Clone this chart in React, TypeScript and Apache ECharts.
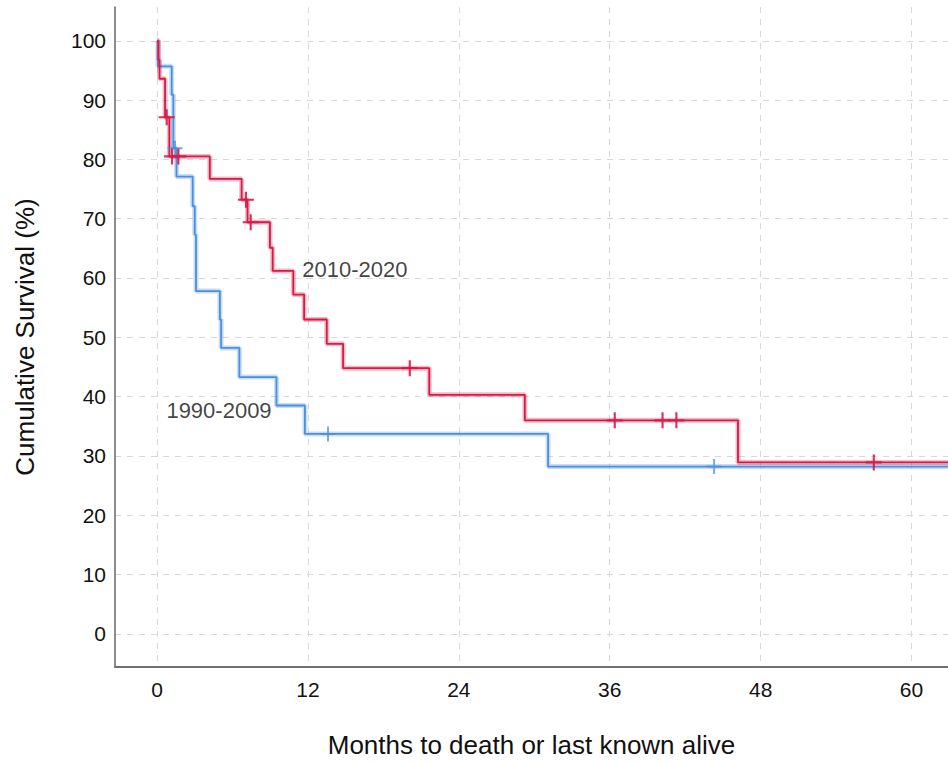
import React, { useEffect, useRef } from "react";
import * as echarts from "echarts";

const xTicks = [0, 12, 24, 36, 48, 60];
const yTicks = [0, 10, 20, 30, 40, 50, 60, 70, 80, 90, 100];
const xRange = [-3.34, 62.9];
const yRange = [-5.6, 105.7];

// Kaplan-Meier steps: [time, survival after time]
const blueSteps: [number, number][] = [
  [0, 100], [0.08, 95.7], [1.17, 90.9], [1.3, 81.9], [1.55, 77.1],
  [2.84, 72.1], [3.0, 67.3], [3.1, 57.8], [5.0, 53.0], [5.1, 48.2],
  [6.55, 43.3], [9.5, 38.5], [11.76, 33.7], [31.1, 28.2], [62.9, 28.2],
];
const blueCensors: [number, number][] = [[1.43, 81.9], [13.6, 33.7], [44.3, 28.2]];

const redSteps: [number, number][] = [
  [0, 100], [0.12, 96.8], [0.2, 93.6], [0.64, 87.1], [0.98, 80.5],
  [4.2, 76.7], [6.73, 73.2], [7.2, 69.4], [8.98, 65.1], [9.2, 61.2],
  [10.84, 57.2], [11.7, 53.0], [13.5, 48.9], [14.8, 44.8], [21.65, 40.3],
  [29.25, 36.0], [46.2, 28.9], [62.9, 28.9],
];
const redCensors: [number, number][] = [
  [0.77, 87.1], [1.2, 80.5], [1.7, 80.5], [7.07, 73.2], [7.45, 69.4],
  [20.1, 44.8], [36.4, 36.0], [40.2, 36.0], [41.3, 36.0], [57.0, 28.9],
];

const groupLabels = [
  { name: "2010-2020", pos: [15.74, 61.4] },
  { name: "1990-2009", pos: [4.93, 37.6] },
];

const RED = "#d71a45";
const BLUE = "#4a8fe3";
const PLUS = "path://M6.5,0H8.5V6.5H15V8.5H8.5V15H6.5V8.5H0V6.5H6.5Z";
const FONT = "Liberation Sans, Arial, sans-serif";
const TEXT = "#111";

export default function App() {
  const ref = useRef<HTMLDivElement>(null);
  useEffect(() => {
    document.body.style.margin = "0";
    const chart = echarts.init(ref.current!, null, { renderer: "svg" });
    const stepSeries = (data: [number, number][], color: string, width: number, opacity: number, z: number) => ({
      type: "line",
      data,
      step: "end",
      symbol: "none",
      silent: true,
      z,
      lineStyle: { color, width, opacity },
    });
    chart.setOption({
      animation: false,
      textStyle: { fontFamily: FONT },
      grid: { left: 115, right: 0, top: 7, bottom: 96, containLabel: false },
      xAxis: {
        type: "value",
        min: xRange[0],
        max: xRange[1],
        name: "Months to death or last known alive",
        nameLocation: "middle",
        nameGap: 65,
        nameTextStyle: { fontSize: 26, color: TEXT, fontFamily: FONT },
        axisLine: { show: true, onZero: false, lineStyle: { color: "#707070", width: 2 } },
        axisTick: { show: false, customValues: xTicks },
        axisLabel: { customValues: xTicks, fontSize: 21, color: TEXT, margin: 12, fontFamily: FONT },
        splitLine: { show: true, lineStyle: { color: "#d8d8d8", type: [6, 6], width: 1 } },
      },
      yAxis: {
        type: "value",
        min: yRange[0],
        max: yRange[1],
        name: "Cumulative Survival (%)",
        nameLocation: "middle",
        nameGap: 77,
        nameTextStyle: { fontSize: 26, color: TEXT, fontFamily: FONT },
        axisLine: { show: true, onZero: false, lineStyle: { color: "#666", width: 1.5 } },
        axisTick: { show: false, customValues: yTicks },
        axisLabel: { customValues: yTicks, fontSize: 21, color: TEXT, margin: 9, fontFamily: FONT },
        splitLine: { show: true, lineStyle: { color: "#d8d8d8", type: [6, 6], width: 1 } },
      },
      series: [
        stepSeries(blueSteps, BLUE, 5, 0.3, 2),
        stepSeries(blueSteps, BLUE, 1.8, 1, 3),
        stepSeries(redSteps, RED, 5, 0.3, 4),
        stepSeries(redSteps, RED, 1.8, 1, 5),
        {
          type: "scatter",
          data: blueCensors,
          symbol: PLUS,
          symbolSize: 15,
          itemStyle: { color: BLUE, opacity: 0.75 },
          z: 6,
        },
        {
          type: "scatter",
          data: redCensors,
          symbol: PLUS,
          symbolSize: 16,
          itemStyle: { color: RED, opacity: 0.9 },
          z: 7,
        },
        {
          type: "scatter",
          data: groupLabels.map((g) => ({ name: g.name, value: g.pos })),
          symbolSize: 0,
          z: 8,
          label: {
            show: true,
            position: "inside",
            formatter: "{b}",
            fontSize: 22,
            color: TEXT,
            fontFamily: FONT,
          },
        },
      ],
    });
    return () => chart.dispose();
  }, []);
  return <div ref={ref} style={{ width: 948, height: 763 }} />;
}
